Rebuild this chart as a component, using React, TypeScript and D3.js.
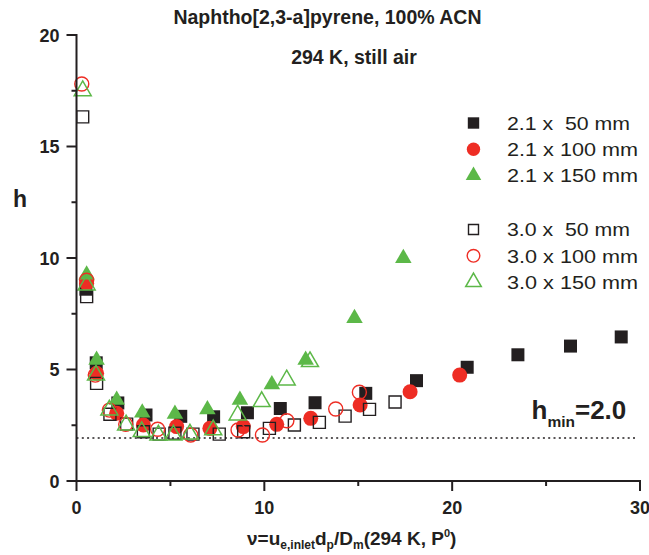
import React from "react";
import * as d3 from "d3";

const title1 = "Naphtho[2,3-a]pyrene, 100% ACN";
const title2 = "294 K, still air";

const xMajor = [0, 10, 20, 30];
const xMinor = [5, 15, 25];
const yMajor = [0, 5, 10, 15, 20];
const yMinor = [2.5, 7.5, 12.5, 17.5];
const hMin = 1.93;

const s21x50: [number, number][] = [
  [0.5, 8.6], [1.05, 5.3], [2.2, 3.5], [3.7, 2.96], [5.55, 2.9], [7.3, 2.88],
  [9.1, 3.06], [10.85, 3.25], [12.7, 3.51], [15.4, 3.93], [18.1, 4.5],
  [20.8, 5.1], [23.5, 5.66], [26.3, 6.05], [29.0, 6.46],
];
const s21x100: [number, number][] = [
  [0.54, 8.87], [1.07, 4.83], [2.14, 3.04], [3.56, 2.51], [5.33, 2.44],
  [7.1, 2.36], [8.88, 2.44], [10.66, 2.54], [12.47, 2.81], [15.1, 3.41],
  [17.76, 4.0], [20.4, 4.75],
];
const s21x150: [number, number][] = [
  [0.54, 9.25], [1.07, 5.43], [2.14, 3.63], [3.5, 3.06], [5.24, 3.0],
  [6.97, 3.21], [8.7, 3.63], [10.4, 4.33], [12.2, 5.43], [14.8, 7.3], [17.4, 9.99],
];
const s30x50: [number, number][] = [
  [0.33, 16.33], [0.54, 8.27], [1.07, 4.38], [1.78, 2.99], [2.67, 2.55],
  [3.56, 2.21], [4.4, 2.1], [5.24, 2.14], [6.2, 2.1], [7.6, 2.1], [8.9, 2.21],
  [10.27, 2.36], [11.6, 2.51], [12.93, 2.63], [14.3, 2.91], [15.6, 3.21], [16.96, 3.54],
];
const s30x100: [number, number][] = [
  [0.28, 17.8], [0.54, 9.0], [1.0, 4.75], [1.75, 3.18], [2.62, 2.54],
  [4.32, 2.32], [6.08, 2.06], [8.6, 2.29], [9.9, 2.06], [11.2, 2.7],
  [13.8, 3.23], [15.06, 3.98],
];
const s30x150: [number, number][] = [
  [0.33, 17.5], [0.54, 8.79], [1.04, 4.75], [1.75, 3.18], [2.64, 2.51],
  [3.47, 2.21], [4.36, 2.06], [5.16, 2.06], [6.04, 2.1], [7.28, 2.29],
  [8.58, 2.96], [9.86, 3.56], [11.19, 4.53], [12.43, 5.35],
];

const legendLabels = [
  "2.1 x  50 mm", "2.1 x 100 mm", "2.1 x 150 mm",
  "3.0 x  50 mm", "3.0 x 100 mm", "3.0 x 150 mm",
];

const BLACK = "#231f20";
const RED = "#ee2d24";
const GREEN = "#5cb848";
const FONT = "'Liberation Sans', Arial, Helvetica, sans-serif";

type Sty = { type: d3.SymbolType; size: number; fill: string; stroke: string; sw: number; lsize: number };
const styles: Sty[] = [
  { type: d3.symbolSquare, size: 169, fill: BLACK, stroke: "none", sw: 0, lsize: 130 },
  { type: d3.symbolCircle, size: 177, fill: RED, stroke: "none", sw: 0, lsize: 140 },
  { type: d3.symbolTriangle, size: 118, fill: GREEN, stroke: "none", sw: 0, lsize: 105 },
  { type: d3.symbolSquare, size: 144, fill: "none", stroke: BLACK, sw: 1.4, lsize: 100 },
  { type: d3.symbolCircle, size: 154, fill: "none", stroke: RED, sw: 1.4, lsize: 125 },
  { type: d3.symbolTriangle, size: 125, fill: "none", stroke: GREEN, sw: 1.5, lsize: 105 },
];
const seriesData = [s21x50, s21x100, s21x150, s30x50, s30x100, s30x150];

export default function App() {
  const W = 649, H = 555;
  const x = d3.scaleLinear().domain([0, 30]).range([76.5, 640]);
  const y = d3.scaleLinear().domain([0, 20]).range([481, 35]);
  const axisW = 2;

  const sym = (s: Sty, size: number) => d3.symbol().type(s.type).size(size)() || "";

  return (
    <svg width={W} height={H} style={{ position: "absolute", left: 0, top: 0, background: "#fff" }} fontFamily={FONT}>
      <rect x={0} y={0} width={W} height={H} fill="#fff" />
      {/* title */}
      <text x={327.5} y={24} textAnchor="middle" fontSize={19.5} fontWeight="bold" fill={BLACK}>{title1}</text>
      <text x={354} y={64} textAnchor="middle" fontSize={19.5} fontWeight="bold" fill={BLACK}>{title2}</text>

      {/* h_min dotted line */}
      <line x1={x(0)} x2={x(29.9)} y1={y(hMin)} y2={y(hMin)} stroke={BLACK} strokeWidth={1.5} strokeDasharray="2,3.3" />

      {/* markers */}
      {seriesData.map((d, i) => (
        <g key={i}>
          {d.map((p, j) => (
            <path key={j} d={sym(styles[i], styles[i].size)} transform={`translate(${x(p[0])},${y(p[1])})`}
              fill={styles[i].fill} stroke={styles[i].stroke} strokeWidth={styles[i].sw} />
          ))}
        </g>
      ))}

      {/* axes */}
      <line x1={x(0)} x2={x(0)} y1={y(20) - 1} y2={y(0)} stroke={BLACK} strokeWidth={axisW} />
      <line x1={x(0) - 1} x2={x(30) + 1} y1={y(0)} y2={y(0)} stroke={BLACK} strokeWidth={axisW} />
      {yMajor.map((v) => (
        <g key={"ym" + v}>
          <line x1={x(0) - 10} x2={x(0)} y1={y(v)} y2={y(v)} stroke={BLACK} strokeWidth={axisW} />
          <text x={x(0) - 17} y={y(v) + 6.5} textAnchor="end" fontSize={18} fontWeight="bold" fill={BLACK}>{v}</text>
        </g>
      ))}
      {yMinor.map((v) => (
        <line key={"yn" + v} x1={x(0) - 5} x2={x(0)} y1={y(v)} y2={y(v)} stroke={BLACK} strokeWidth={axisW} />
      ))}
      {xMajor.map((v) => (
        <g key={"xm" + v}>
          <line x1={x(v)} x2={x(v)} y1={y(0)} y2={y(0) + 10} stroke={BLACK} strokeWidth={axisW} />
          <text x={x(v)} y={514} textAnchor="middle" fontSize={18} fontWeight="bold" fill={BLACK}>{v}</text>
        </g>
      ))}
      {xMinor.map((v) => (
        <line key={"xn" + v} x1={x(v)} x2={x(v)} y1={y(0)} y2={y(0) + 5} stroke={BLACK} strokeWidth={axisW} />
      ))}

      {/* y label */}
      <text x={20} y={207} textAnchor="middle" fontSize={23} fontWeight="bold" fill={BLACK}>h</text>

      {/* x label */}
      <text x={351.7} y={545} textAnchor="middle" fontSize={19} fontWeight="bold" fill={BLACK}>
        ν=u<tspan fontSize={12} dy={4}>e,inlet</tspan><tspan dy={-4}>d</tspan>
        <tspan fontSize={12} dy={4}>p</tspan><tspan dy={-4}>/D</tspan>
        <tspan fontSize={12} dy={4}>m</tspan><tspan dy={-4}>(294 K, P</tspan>
        <tspan fontSize={11} dy={-8}>0</tspan><tspan dy={8}>)</tspan>
      </text>

      {/* h_min label */}
      <text x={531.5} y={419} fontSize={26} fontWeight="bold" fill={BLACK}>
        h<tspan fontSize={15.5} dy={8}>min</tspan><tspan dy={-8}>=2.0</tspan>
      </text>

      {/* legend */}
      {legendLabels.map((lab, i) => {
        const ly = i < 3 ? 123 + i * 26.3 : 229.5 + (i - 3) * 26.3;
        const s = styles[i];
        return (
          <g key={"lg" + i}>
            <path d={sym(s, s.lsize)} transform={`translate(${473.5},${ly})`} fill={s.fill} stroke={s.stroke} strokeWidth={s.sw} />
            <text x={507} y={ly + 6.8} fontSize={18} fill={BLACK} style={{ whiteSpace: "pre" }}
              textLength={i === 0 || i === 3 ? 123 : 131} lengthAdjust="spacingAndGlyphs">{lab}</text>
          </g>
        );
      })}
    </svg>
  );
}
